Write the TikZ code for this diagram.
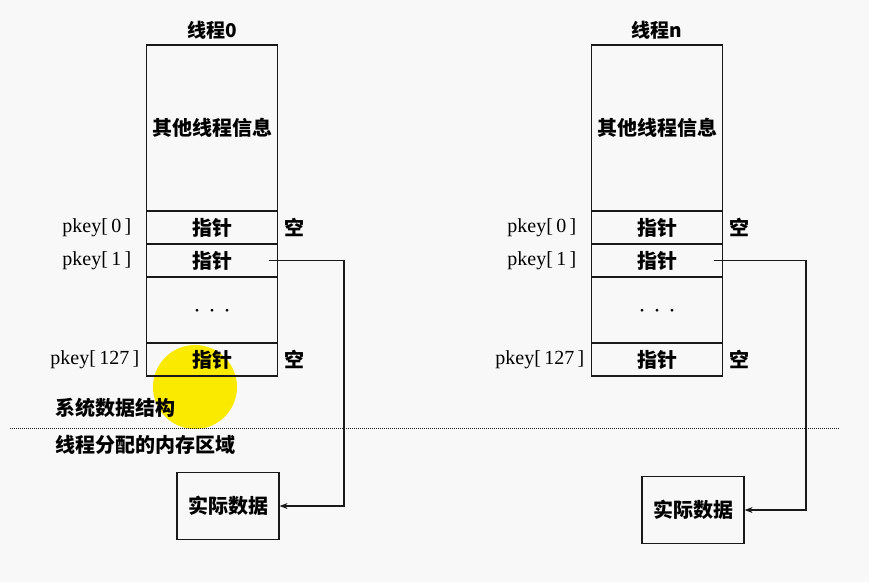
\documentclass[tikz,border=0pt]{standalone}
\usepackage{fontspec}
\setmainfont{Liberation Serif}
\newfontfamily\cjk{Noto Sans CJK SC}
\usetikzlibrary{positioning,arrows.meta}

\definecolor{bgcol}{RGB}{248,248,248}
\definecolor{inkcol}{RGB}{25,25,25}
\definecolor{hilite}{RGB}{250,234,0}

\tikzset{
  cell/.style={draw=inkcol, line width=1.2pt, minimum width=131pt, inner sep=0pt, outer sep=0pt,
    font=\cjk\bfseries\fontsize{20}{20}\selectfont},
  title/.style={font=\cjk\bfseries\fontsize{19}{19}\selectfont, inner sep=1pt},
  keylbl/.style={font=\fontsize{20}{20}\selectfont, inner sep=0pt},
  nil/.style={font=\cjk\bfseries\fontsize{20}{20}\selectfont, inner sep=0pt},
  region/.style={font=\cjk\bfseries\fontsize{20}{20}\selectfont, inner sep=0pt, anchor=west},
  databox/.style={draw=inkcol, line width=1.2pt, minimum width=102pt, minimum height=67pt,
    inner sep=0pt, font=\cjk\bfseries\fontsize{20}{20}\selectfont},
  ptr/.style={draw=inkcol, line width=1.1pt, -{Stealth[length=8pt,width=6pt]}},
  sepline/.style={draw=inkcol, line width=1pt, dash pattern=on 1pt off 1pt}
}

\begin{document}
\begin{tikzpicture}[x=1pt,y=-1pt]
\useasboundingbox[fill=bgcol] (0,0) rectangle (869,582);
% cursor highlight
\fill[hilite] (195,387) circle[radius=42];
\draw[sepline] (10,428) -- (840,428);
\node[region] (sys) at (55,408) {系统数据结构};
\node[region] (mem) at (55,445) {线程分配的内存区域};
\foreach \t/\cx/\ttl/\tx/\dx/\dy in {l/212/0/344/228/506,r/657/n/806/693/510}{
  \node[cell, minimum height=166pt, anchor=north] (info\t) at (\cx,45) {其他线程信息};
  \node[cell, minimum height=33pt, below=0pt of info\t] (pa\t) {指针};
  \node[cell, minimum height=33pt, below=0pt of pa\t] (pb\t) {指针};
  \node[cell, minimum height=66pt, below=0pt of pb\t] (dots\t)
    {\raisebox{-8pt}{\fontsize{10}{10}\selectfont\textbullet\hspace{5pt}\textbullet\hspace{5pt}\textbullet}};
  \node[cell, minimum height=33pt, below=0pt of dots\t] (pz\t) {指针};
  \node[title, above=4pt of info\t] (name\t) {线程\ttl};
  \node[keylbl, left=15pt of pa\t] (ka\t) {pkey[\,0\,]};
  \node[keylbl, left=15pt of pb\t] (kb\t) {pkey[\,1\,]};
  \node[keylbl, left=7pt of pz\t] (kz\t) {pkey[\,127\,]};
  \node[nil, right=7pt of pa\t] (na\t) {空};
  \node[nil, right=7pt of pz\t] (nz\t) {空};
  \node[databox] (data\t) at (\dx,\dy) {实际数据};
  \coordinate (src\t) at ([xshift=-9pt]pb\t.east);
  \coordinate (turn\t) at (\tx,0);
  \draw[ptr] (src\t) -- (src\t -| turn\t) |- (data\t.east);
}
\end{tikzpicture}
\end{document}
